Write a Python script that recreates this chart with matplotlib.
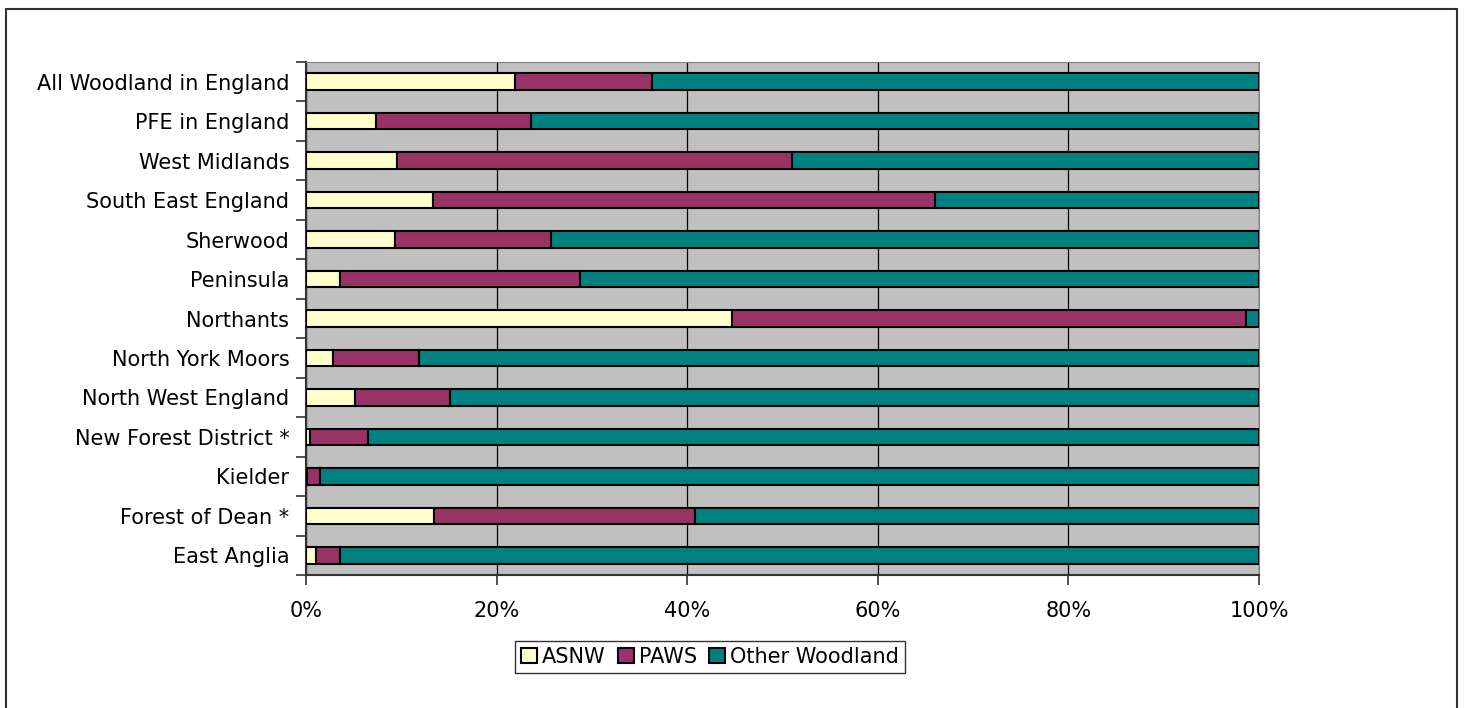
import numpy as np
import matplotlib.pyplot as plt
from matplotlib.patches import Rectangle

regions = ["All Woodland in England", "PFE in England", "West Midlands",
           "South East England", "Sherwood", "Peninsula", "Northants",
           "North York Moors", "North West England", "New Forest District *",
           "Kielder", "Forest of Dean *", "East Anglia"]
asnw = [21.9, 7.3, 9.5, 13.3, 9.3, 3.6, 44.7, 2.8, 5.1, 0.45, 0.1, 13.4, 1.1]
paws = [14.4, 16.3, 41.5, 52.7, 16.4, 25.2, 53.9, 9.1, 10.0, 6.05, 1.4, 27.4, 2.5]
other = [63.7, 76.4, 49.0, 34.0, 74.3, 71.2, 1.4, 88.1, 84.9, 93.5, 98.5, 59.2, 96.4]

series = [("ASNW", asnw, "#FFFFCC"),
          ("PAWS", paws, "#993366"),
          ("Other Woodland", other, "#008080")]

plt.rcParams['font.family'] = ['DejaVu Sans']
fs = 15
fig = plt.figure(figsize=(14.64, 7.08), dpi=100)
ax = fig.add_axes([306 / 1464, 1 - 575 / 708, 953 / 1464, 513 / 708])
ax.set_facecolor("#C0C0C0")

y = np.arange(len(regions))
left = np.zeros(len(regions))
for name, vals, col in series:
    ax.barh(y, vals, left=left, height=0.42, color=col, edgecolor="black",
            linewidth=1.5, label=name, zorder=3)
    left += np.array(vals)

ax.set_xlim(0, 100)
ax.set_ylim(len(regions) - 0.5, -0.5)
ax.set_xticks(np.arange(0, 101, 20))
ax.set_xticklabels([f"{v}%" for v in range(0, 101, 20)], fontsize=fs)
ax.set_yticks(y)
ax.set_yticklabels(regions, fontsize=fs)
ax.tick_params(axis="y", length=0, pad=12)
ax.set_yticks(np.arange(-0.5, len(regions), 1), minor=True)
ax.tick_params(axis="y", which="minor", length=7, width=1.2, color="#333333")
ax.tick_params(axis="x", length=7, width=1.2, color="#333333", pad=12)
ax.xaxis.grid(True, color="black", linewidth=0.9, zorder=1)
ax.set_axisbelow(True)
for s in ["top", "right"]:
    ax.spines[s].set_color("#808080")
for s in ["left", "bottom"]:
    ax.spines[s].set_color("#333333")
    ax.spines[s].set_linewidth(1.5)

leg = fig.legend(loc="center", bbox_to_anchor=(710 / 1464, 1 - 657 / 708),
                 ncol=3, fontsize=fs, frameon=True, fancybox=False,
                 edgecolor="black", handlelength=0.75, handleheight=0.75,
                 handletextpad=0.25, columnspacing=0.6, borderpad=0.3,
                 borderaxespad=0)
leg.get_frame().set_linewidth(1.0)

# outer chart border, open at the bottom
fig.patches.append(Rectangle((6 / 1464, -0.1), 1451 / 1464, 1.1 - 9 / 708,
                             transform=fig.transFigure, fill=False,
                             edgecolor="#333333", linewidth=1.5))

fig.savefig("out.png", dpi=100)
